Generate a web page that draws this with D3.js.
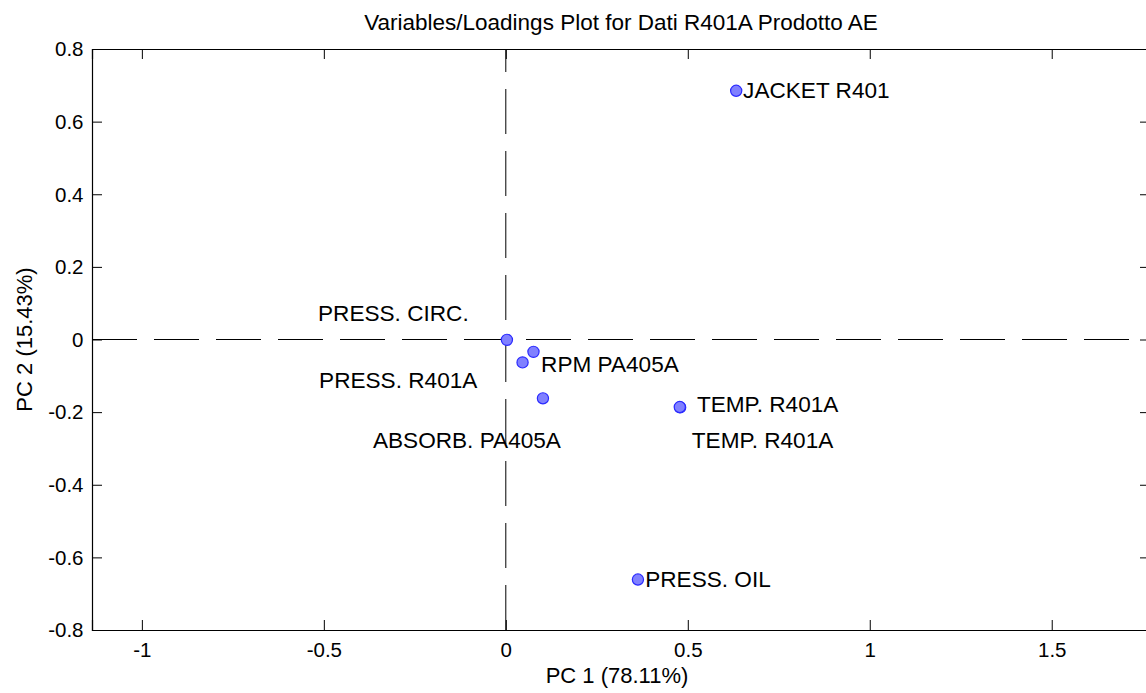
<!DOCTYPE html>
<html>
<head>
<meta charset="utf-8">
<script src="https://cdn.jsdelivr.net/npm/d3@7"></script>
<style>
  html, body { margin: 0; padding: 0; background: #fff; }
  svg { display: block; }
  text { font-family: "Liberation Sans", Arial, Helvetica, sans-serif; fill: #000; }
</style>
</head>
<body>
<svg id="chart" width="1146" height="693"></svg>
<script>
// Loadings for PC1 / PC2
const variables = ["JACKET R401", "PRESS. CIRC.", "RPM PA405A", "PRESS. R401A",
                   "ABSORB. PA405A", "TEMP. R401A", "TEMP. R401A", "PRESS. OIL"];
const pc1 = [0.633, 0.003, 0.076, 0.046, 0.102, 0.479, 0.478, 0.363];
const pc2 = [0.685, -0.001, -0.034, -0.063, -0.162, -0.187, -0.186, -0.661];

// Where each variable name is written (data units)
const labelX = [0.652, -0.516, 0.097, -0.513, -0.365, 0.525, 0.511, 0.383];
const labelY = [0.687, 0.073, -0.067, -0.112, -0.277, -0.178, -0.277, -0.660];

const xTicks = [-1, -0.5, 0, 0.5, 1, 1.5];
const yTicks = [-0.8, -0.6, -0.4, -0.2, 0, 0.2, 0.4, 0.6, 0.8];
const xLimits = [-1.137, 1.77];
const yLimits = [-0.8, 0.8];

const titleText = "Variables/Loadings Plot for Dati R401A Prodotto AE";
const xLabelText = "PC 1 (78.11%)";
const yLabelText = "PC 2 (15.43%)";

const svg = d3.select("#chart");
const box = { left: 92, right: 1150, top: 49, bottom: 630 };

const x = d3.scaleLinear().domain(xLimits).range([box.left, box.right]);
const y = d3.scaleLinear().domain(yLimits).range([box.bottom, box.top]);

// plain tick text with an ASCII hyphen for negatives
const fmt = v => String(+v.toFixed(2));

// zero reference lines (long dashes)
svg.append("line")
  .attr("x1", x(xLimits[0])).attr("x2", x(xLimits[1]))
  .attr("y1", y(0)).attr("y2", y(0))
  .attr("stroke", "#000").attr("stroke-width", 1)
  .attr("stroke-dasharray", "45,17");
svg.append("line")
  .attr("x1", x(0)).attr("x2", x(0))
  .attr("y1", y(yLimits[0])).attr("y2", y(yLimits[1]))
  .attr("stroke", "#000").attr("stroke-width", 1)
  .attr("stroke-dasharray", "45,17");

// axes with inward ticks on all four sides
const tickLen = 10;
const axB = svg.append("g").attr("transform", `translate(0,${box.bottom})`)
  .call(d3.axisBottom(x).tickValues(xTicks).tickSize(-tickLen).tickPadding(12).tickFormat(fmt));
const axT = svg.append("g").attr("transform", `translate(0,${box.top})`)
  .call(d3.axisTop(x).tickValues(xTicks).tickSize(-tickLen).tickFormat(""));
const axL = svg.append("g").attr("transform", `translate(${box.left},0)`)
  .call(d3.axisLeft(y).tickValues(yTicks).tickSize(-tickLen).tickPadding(8.5).tickFormat(fmt));
const axR = svg.append("g").attr("transform", `translate(${box.right},0)`)
  .call(d3.axisRight(y).tickValues(yTicks).tickSize(-tickLen).tickFormat(""));

[axB, axT, axL, axR].forEach(g => {
  g.select(".domain").attr("stroke", "#000").attr("stroke-width", 1.2);
  g.selectAll(".tick line").attr("stroke", "#000").attr("stroke-width", 1);
  g.selectAll(".tick text").attr("font-size", 20.5).attr("fill", "#000")
    .style("font-family", '"Liberation Sans", Arial, sans-serif');
});
axL.selectAll(".tick text").attr("dy", "0.33em");
axB.selectAll(".tick text").attr("dy", "0.71em");

// points
svg.append("g").selectAll("circle")
  .data(d3.range(variables.length))
  .join("circle")
  .attr("cx", i => x(pc1[i]))
  .attr("cy", i => y(pc2[i]))
  .attr("r", 5.6)
  .attr("fill", "#8080ff")
  .attr("stroke", "#2a2aff")
  .attr("stroke-width", 1.2);

// variable names
svg.append("g").selectAll("text")
  .data(d3.range(variables.length))
  .join("text")
  .attr("x", i => x(labelX[i]))
  .attr("y", i => y(labelY[i]))
  .attr("dy", "0.35em")
  .attr("font-size", 22.6)
  .text(i => variables[i]);

// title and axis labels
svg.append("text")
  .attr("x", (box.left + box.right) / 2).attr("y", 29.5)
  .attr("text-anchor", "middle").attr("font-size", 22.5)
  .text(titleText);
svg.append("text")
  .attr("x", (box.left + box.right) / 2 - 4).attr("y", 683)
  .attr("text-anchor", "middle").attr("font-size", 22)
  .text(xLabelText);
svg.append("text")
  .attr("transform", `translate(31.5,${(box.top + box.bottom) / 2}) rotate(-90)`)
  .attr("text-anchor", "middle").attr("font-size", 22)
  .text(yLabelText);
</script>
</body>
</html>
